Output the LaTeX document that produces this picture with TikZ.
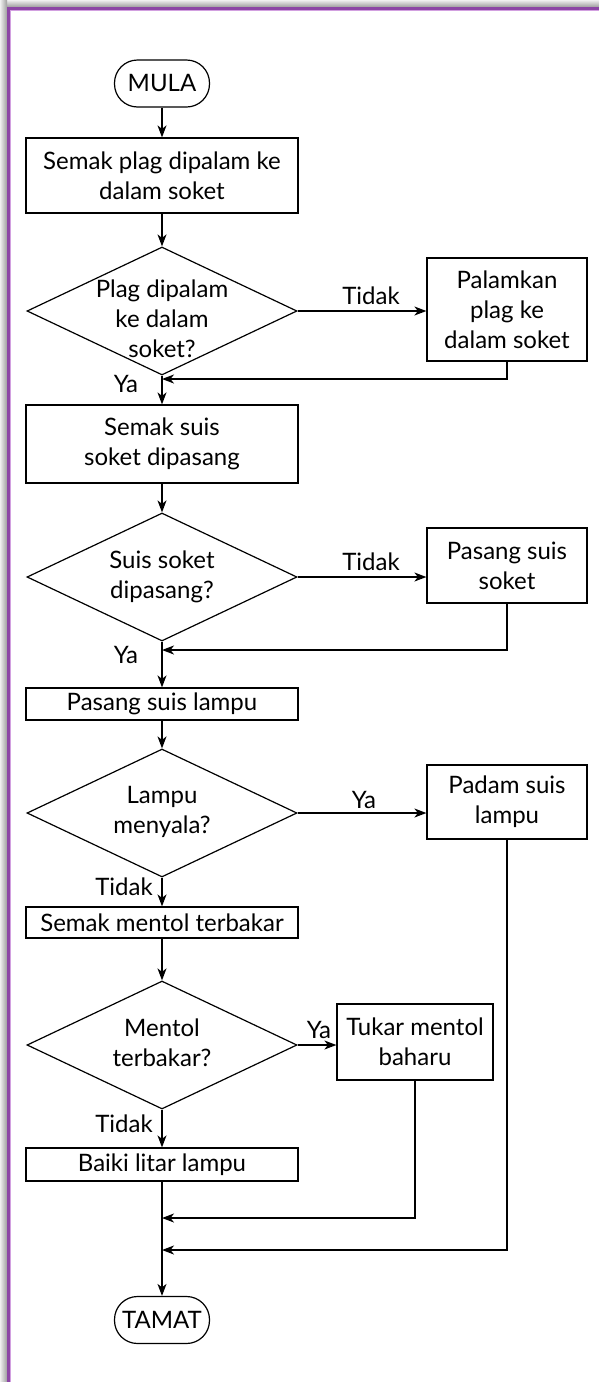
\documentclass[tikz,border=0pt]{standalone}
\usepackage{fontspec}
\setmainfont{Lato}
\usetikzlibrary{shapes.geometric,arrows.meta}
\definecolor{framepurple}{RGB}{140,70,165}
\definecolor{framelilac}{RGB}{210,160,224}
\begin{document}
\begin{tikzpicture}[x=1pt,y=-1pt,
  every node/.style={font=\fontsize{24}{30}\selectfont, text=black},
  stepbox/.style={draw, line width=1.2pt, rectangle, align=center, inner sep=0pt, minimum width=272pt},
  sidebox/.style={draw, line width=1.2pt, rectangle, align=center, inner sep=0pt},
  term/.style={draw, line width=1.2pt, rounded corners=23pt, minimum width=95pt, minimum height=47pt, inner sep=0pt},
  dia/.style={draw, line width=1.2pt, diamond, inner sep=0pt, minimum width=270pt, minimum height=128pt},
  ask/.style={align=center, inner sep=0pt},
  lbl/.style={inner sep=0pt},
  arr/.style={line width=1.4pt, -{Stealth[length=12pt,width=9pt,inset=3.5pt]}}
]
% page and frame
\useasboundingbox (0,0) rectangle (599,1382);
\fill[white] (0,0) rectangle (599,1382);
\shade[top color=black!6, bottom color=black!38] (0,0) rectangle (599,7);
\shade[left color=black!6, right color=black!38] (0,0) rectangle (7,1382);
\draw[framelilac, line width=1.2pt] (10.4,1382) -- (10.4,10.4) -- (599,10.4);
\draw[framepurple, line width=3pt] (8.3,1382) -- (8.3,8.3) -- (599,8.3);

% main column
\node[term] (mula) at (162,83.5) {MULA};
\node[stepbox, minimum height=75pt] (b1) at (162,175.5) {Semak plag dipalam ke\\dalam soket};
\node[dia] (d1) at (162,311) {};
\node[ask] (d1t) at (162,319) {Plag dipalam\\ke dalam\\soket?};
\node[sidebox, minimum width=160pt, minimum height=103pt] (p1) at (507,309.5) {Palamkan\\plag ke\\dalam soket};
\node[lbl] (t1) at (371,296) {Tidak};
\node[lbl] (y1) at (126,384) {Ya};
\coordinate (r1) at (162,379);

\node[stepbox, minimum height=78pt] (b2) at (162,444) {Semak suis\\soket dipasang};
\node[dia] (d2) at (162,577) {};
\node[ask] (d2t) at (162,577) {Suis soket\\dipasang?};
\node[sidebox, minimum width=160pt, minimum height=75pt] (p2) at (507,565.5) {Pasang suis\\soket};
\node[lbl] (t2) at (371,562) {Tidak};
\node[lbl] (y2) at (126,655) {Ya};
\coordinate (r2) at (162,650);

\node[stepbox, minimum height=32pt] (b3) at (162,704) {Pasang suis lampu};
\node[dia] (d3) at (162,813) {};
\node[ask] (d3t) at (162,812) {Lampu\\menyala?};
\node[sidebox, minimum width=160pt, minimum height=74pt] (p3) at (507,802) {Padam suis\\lampu};
\node[lbl] (y3) at (364,800) {Ya};
\node[lbl] (t3) at (124,887) {Tidak};

\node[stepbox, minimum height=31pt] (b4) at (162,922.5) {Semak mentol terbakar};
\node[dia] (d4) at (162,1045) {};
\node[ask] (d4t) at (162,1043) {Mentol\\terbakar?};
\node[sidebox, minimum width=156pt, minimum height=76pt] (tk) at (415,1042) {Tukar mentol\\baharu};
\node[lbl] (y4) at (319,1030) {Ya};
\node[lbl] (t4) at (124,1124) {Tidak};

\node[stepbox, minimum height=33pt] (b5) at (162,1164.5) {Baiki litar lampu};
\coordinate (m1) at (162,1218);
\coordinate (m2) at (162,1250);
\node[term] (tamat) at (162,1320) {TAMAT};

% connectors
\draw[arr] (mula) -- (b1);
\draw[arr] (b1) -- (d1);
\draw[arr] (d1.east) -- (d1.east -| p1.west);
\draw[arr] (p1.south) |- (r1);
\draw[arr] (d1.south) -- (b2.north);
\draw[arr] (b2) -- (d2);
\draw[arr] (d2.east) -- (d2.east -| p2.west);
\draw[arr] (p2.south) |- (r2);
\draw[arr] (d2.south) -- (b3.north);
\draw[arr] (b3) -- (d3);
\draw[arr] (d3.east) -- (d3.east -| p3.west);
\draw[arr] (d3.south) -- (b4.north);
\draw[arr] (b4) -- (d4);
\draw[arr] (d4.east) -- (d4.east -| tk.west);
\draw[arr] (d4.south) -- (b5.north);
\draw[arr] (b5.south) -- (tamat.north);
\draw[arr] (tk.south) |- (m1);
\draw[arr] (p3.south) |- (m2);
\end{tikzpicture}
\end{document}
